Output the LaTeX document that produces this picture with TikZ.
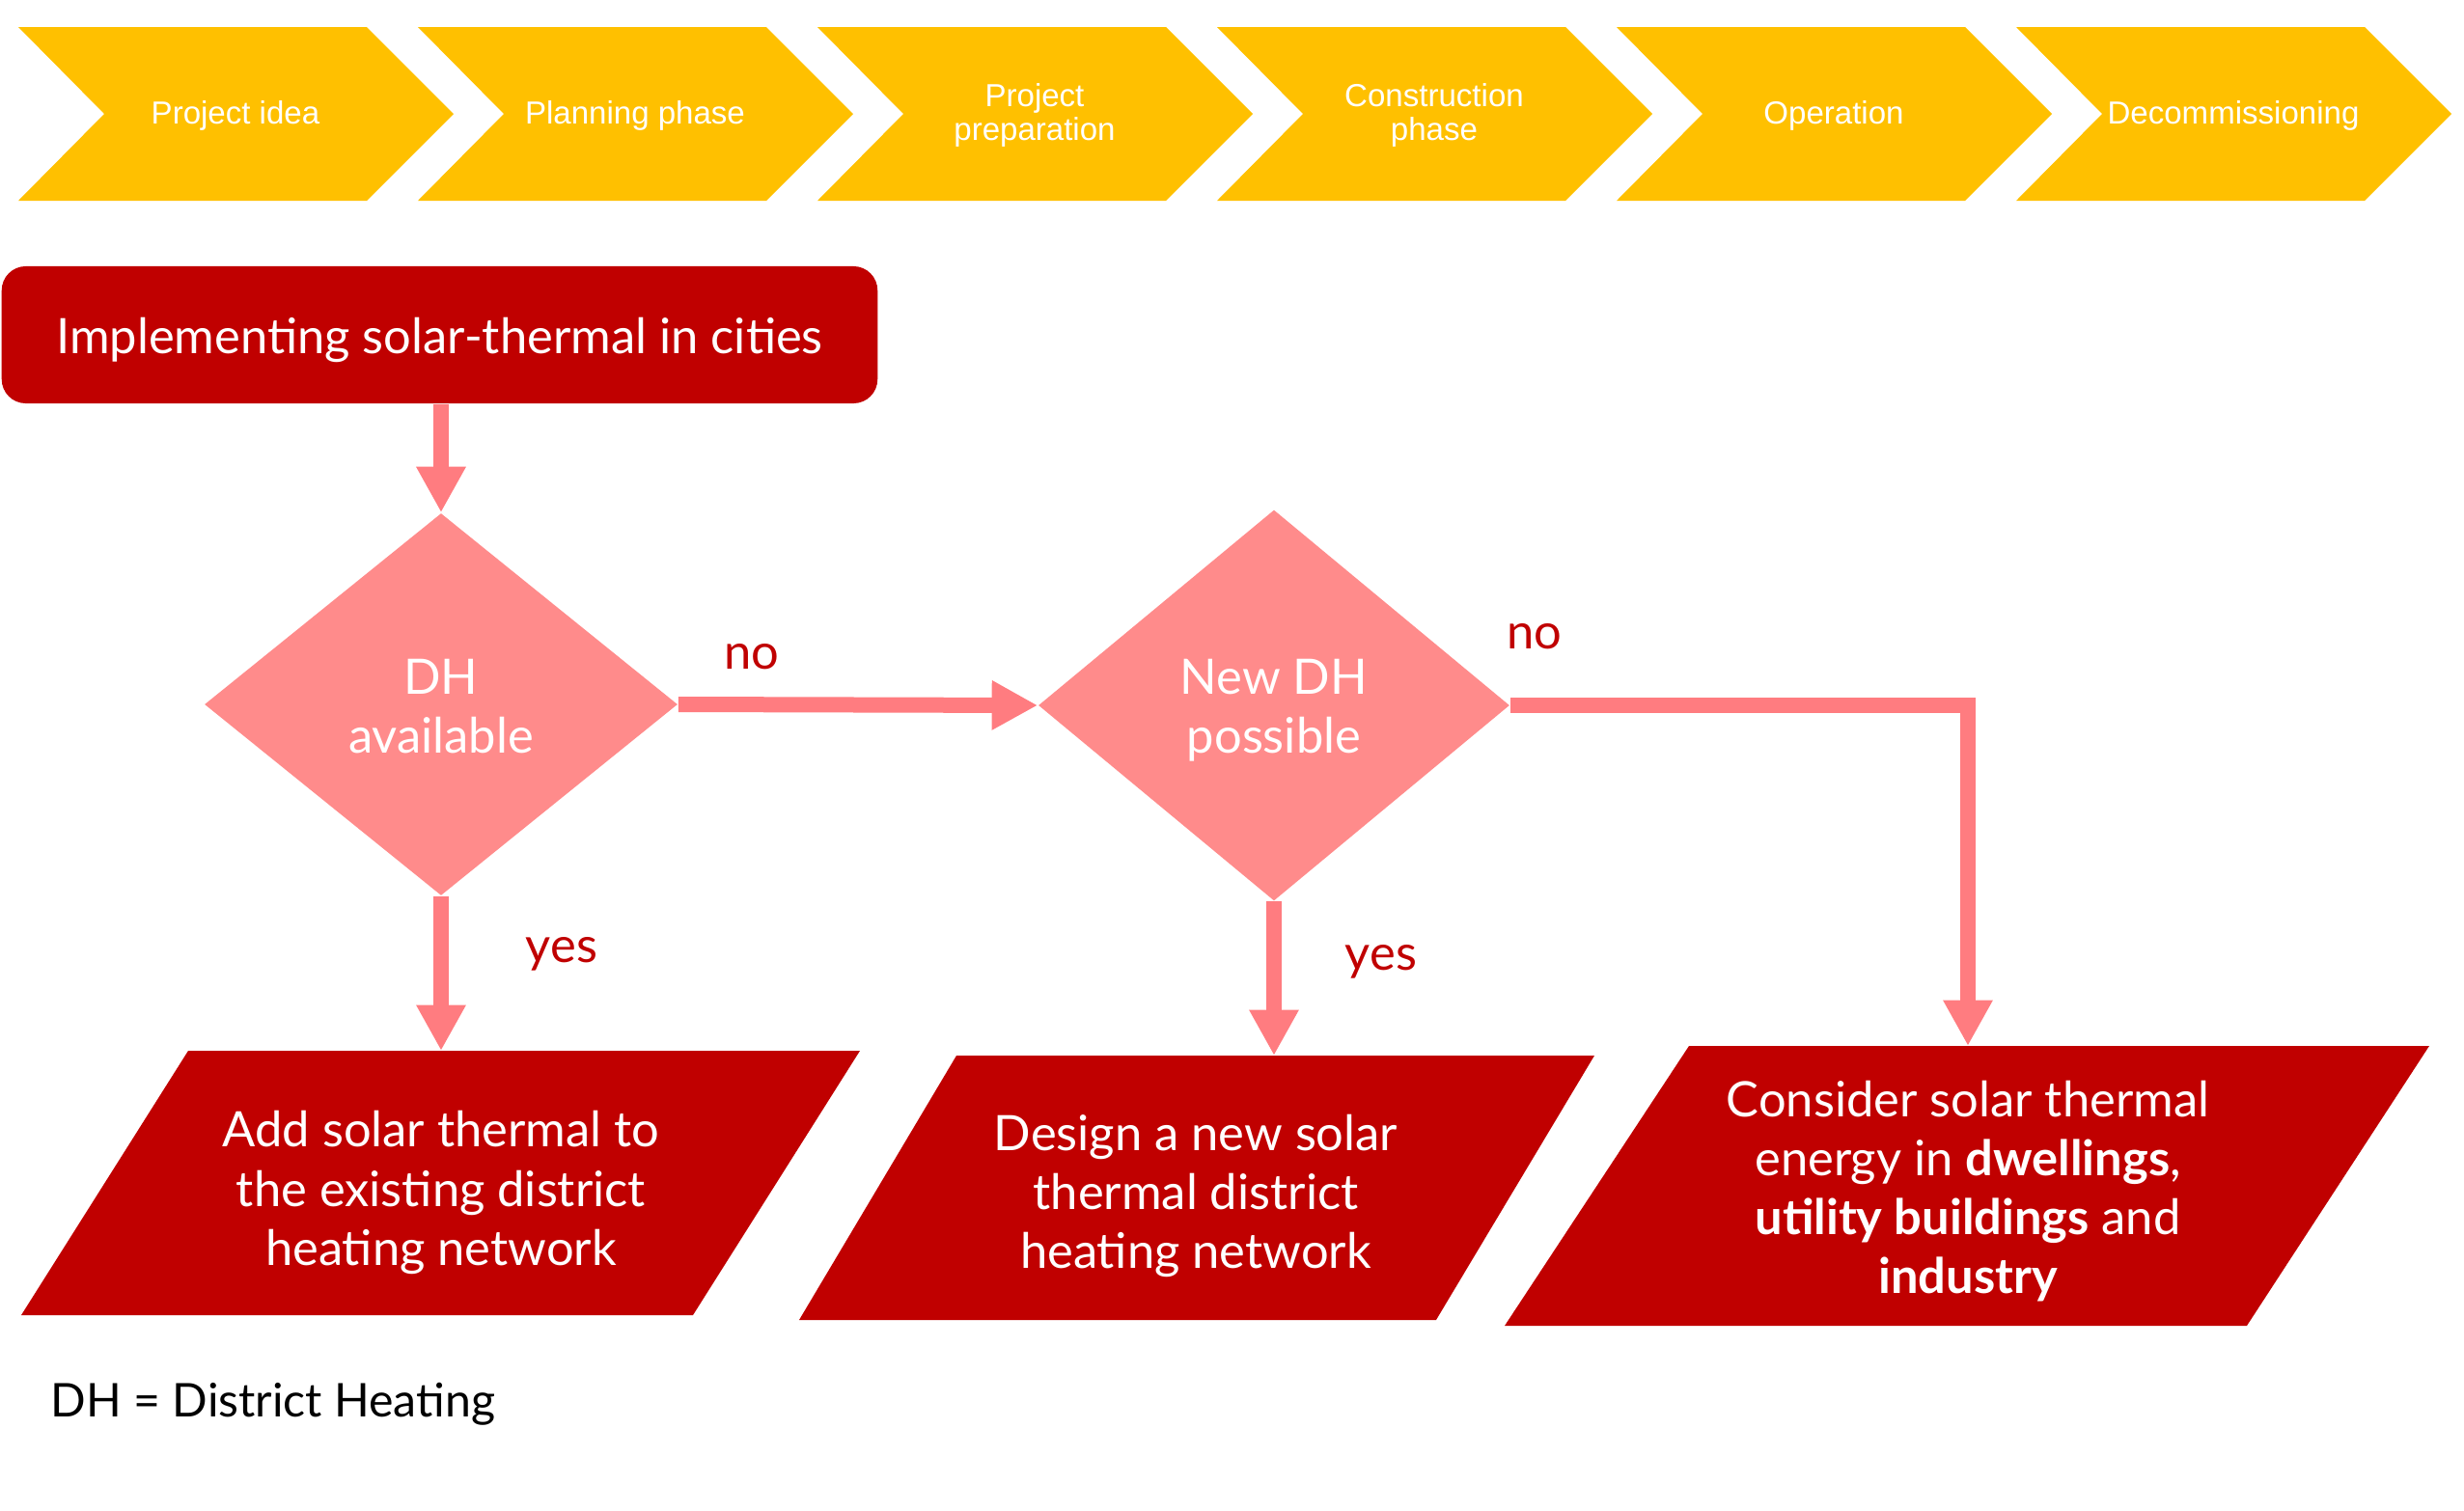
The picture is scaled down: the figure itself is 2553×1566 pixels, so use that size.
\documentclass[tikz,border=0pt]{standalone}
\usepackage{fontspec}
\setmainfont{Lato}
\newfontfamily\arialfont{Liberation Sans}
\usetikzlibrary{shapes.geometric,arrows.meta}
\definecolor{chev}{HTML}{FFC000}
\definecolor{dred}{HTML}{C00000}
\definecolor{dpink}{HTML}{FF8B8B}
\definecolor{apink}{HTML}{FF7C80}
\begin{document}
\begin{tikzpicture}[x=0.01cm,y=-0.01cm,
  chevtext/.style={text=white,align=center,inner sep=0pt,font=\arialfont\fontsize{9.4}{10}\selectfont},
  bodytext/.style={font=\fontsize{14.4}{17.4}\selectfont},
  titlebox/.style={fill=dred,rounded corners=0.25cm,minimum width=9.07cm,minimum height=1.42cm,inner sep=0pt},
  decision/.style={shape=diamond,fill=dpink,inner sep=0pt},
  ptext/.style={bodytext,text=white,align=center,inner sep=0pt},
  lab/.style={bodytext,text=dred,inner sep=0pt,anchor=base},
  conn/.style={draw=apink,line width=4.55pt,-{Triangle[length=13.5pt,width=13.7pt]}}
]
\useasboundingbox (0,0) rectangle (2553,1566);
% phase chevrons
\foreach \i/\t in {0/{Project idea},1/{Planning phase},2/{Project\\preparation},3/{Construction\\phase},4/{Operation},5/{Decommissioning}}{
  \pgfmathsetmacro\xo{19+414*\i}
  \fill[chev] (\xo,28) -- ++(361,0) -- ++(90,90) -- ++(-90,90) -- ++(-361,0) -- ++(89,-90) -- cycle;
  \node[chevtext] (ph\i) at (\xo+225,119.5) {\t};
}
% title
\node[titlebox] (title) at (455.5,347) {};
\node[ptext] (titlet) at (455.5,352) {Implementing solar-thermal in cities};
% decisions
\node[decision,minimum width=4.9cm,minimum height=3.96cm] (d1) at (457,730) {};
\node[decision,minimum width=4.88cm,minimum height=4.05cm] (d2) at (1320,731) {};
\node[ptext] (d1t) at (457,732) {DH\\available};
\node[ptext] (d2t) at (1320,736) {New DH\\possible};
% parallelograms
\fill[dred] (195,1089) -- (891,1089) -- (718,1363) -- (22,1363) -- cycle;
\fill[dred] (991,1094) -- (1652,1094) -- (1488,1368) -- (828,1368) -- cycle;
\fill[dred] (1750,1084) -- (2517,1084) -- (2328,1374) -- (1559,1374) -- cycle;
\node[ptext] (p1t) at (457,1236) {Add solar thermal to\\the existing district\\heating network};
\node[ptext] (p2t) at (1239,1239.5) {Design a new solar\\thermal district\\heating network};
\node[ptext] (p3t) at (2039,1234.5) {Consider solar thermal\\energy in \textbf{dwellings},\\\textbf{utility buildings} and\\\textbf{industry}};
\coordinate (p1in) at (457,1089);
\coordinate (p2in) at (1320,1094);
\coordinate (p3in) at (2039,1084);
% connectors
\draw[conn] (d1.north |- title.south) -- (d1.north);
\draw[conn] (d1.east) -- (d2.west);
\draw[conn] (d2.east) -| (p3in);
\draw[conn] (d1.south) -- (p1in);
\draw[conn] (d2.south) -- (p2in);
% labels
\node[lab] (no1) at (779,693) {no};
\node[lab] (no2) at (1590,672) {no};
\node[lab] (yes1) at (582,997) {yes};
\node[lab] (yes2) at (1431,1005) {yes};
\node[font=\fontsize{13.7}{16}\selectfont,anchor=base west,inner sep=0pt] (legend) at (52,1468) {DH = District Heating};
\end{tikzpicture}
\end{document}
